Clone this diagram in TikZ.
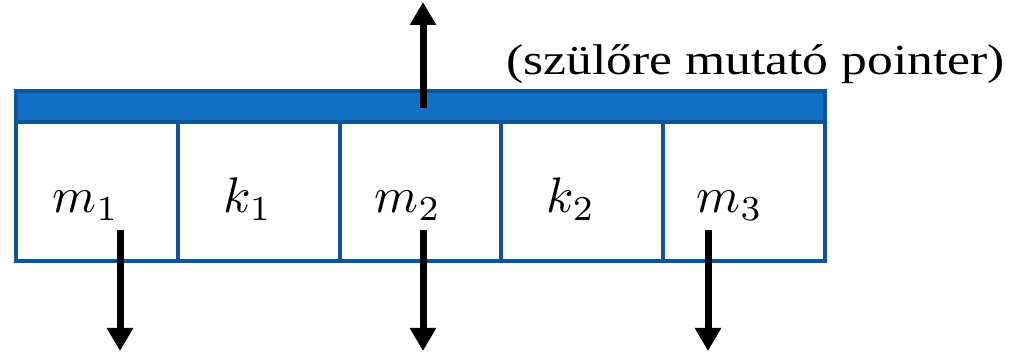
\documentclass[tikz,border=0pt]{standalone}
\usepackage{fontspec}
\setmainfont{Liberation Serif}
\usetikzlibrary{arrows.meta}
\definecolor{bandblue}{RGB}{16,112,198}
\definecolor{edgeblue}{RGB}{14,84,152}
\newcommand{\biglbl}[1]{\scalebox{5}{$#1$}}
\tikzset{
  cellbox/.style={draw=edgeblue, line width=4pt, fill=white, minimum width=162pt, minimum height=139pt, inner sep=0pt, anchor=south west},
  bandbox/.style={draw=edgeblue, line width=4pt, fill=bandblue, minimum width=809pt, minimum height=31pt, inner sep=0pt, anchor=south west},
  lbl/.style={anchor=base, inner sep=0pt},
  ptr/.style={line width=7pt, -{Triangle[width=25pt,length=23pt]}, black}
}
\begin{document}
\begin{tikzpicture}[x=1pt,y=1pt]
\useasboundingbox (0,0) rectangle (1014,352);
\node[bandbox] (band) at (14,228) {};
\node[cellbox] (c1) at (14,89) {};
\node[cellbox] (c2) at (176,89) {};
\node[cellbox, minimum width=161pt] (c3) at (338,89) {};
\node[cellbox] (c4) at (499,89) {};
\node[cellbox] (c5) at (661,89) {};
\node[lbl] (m1) at (86,139) {\biglbl{m_1}};
\node[lbl] (k1) at (248,139) {\biglbl{k_1}};
\node[lbl] (m2) at (408,139) {\biglbl{m_2}};
\node[lbl] (k2) at (571,139) {\biglbl{k_2}};
\node[lbl] (m3) at (730,139) {\biglbl{m_3}};
\node[anchor=base east, inner sep=0pt, font=\fontsize{43}{48}\selectfont] (par) at (1005,277) {\scalebox{1.2}[1]{(szülőre mutató pointer)}};
\coordinate (s1) at (120,122); \coordinate (e1) at (120,1);
\coordinate (s2) at (423,122); \coordinate (e2) at (423,1);
\coordinate (s3) at (708,122); \coordinate (e3) at (708,1);
\coordinate (su) at (423,244); \coordinate (eu) at (423,350);
\draw[ptr] (s1) -- (e1);
\draw[ptr] (s2) -- (e2);
\draw[ptr] (s3) -- (e3);
\draw[ptr] (su) -- (eu);
\end{tikzpicture}
\end{document}
